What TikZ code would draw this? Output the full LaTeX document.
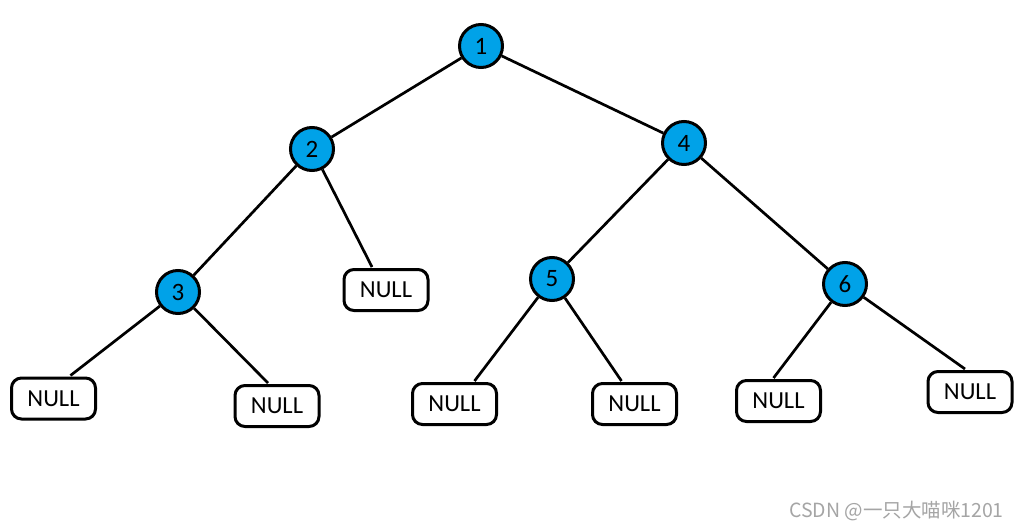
\documentclass[tikz,border=0pt]{standalone}
\usepackage{fontspec}
\setmainfont{Carlito}
\newfontfamily\cjk{Noto Sans CJK SC}
\definecolor{paintblue}{RGB}{0,162,232}
\definecolor{wmgray}{RGB}{165,165,165}
\tikzset{
  treenode/.style={circle, draw=black, line width=3pt, fill=paintblue, minimum size=43pt, inner sep=0pt, font=\fontsize{25}{25}\selectfont},
  nullbox/.style={rectangle, rounded corners=10pt, draw=black, line width=3pt, fill=white, minimum width=84pt, minimum height=41pt, inner sep=0pt, font=\fontsize{24.5}{24.5}\selectfont},
  edge/.style={draw=black, line width=2.7pt}
}
\begin{document}
\begin{tikzpicture}[x=1pt,y=-1pt]
\useasboundingbox (0,0) rectangle (1020,530);
\fill[white] (0,0) rectangle (1020,530);
\node[treenode] (n1) at (481,46) {1};
\node[treenode] (n2) at (312,149) {2};
\node[treenode] (n4) at (684,143) {4};
\node[treenode] (n3) at (178,292) {3};
\node[treenode] (n5) at (552,279) {5};
\node[treenode] (n6) at (845,284) {6};
\node[nullbox] (b2) at (386,290) {NULL};
\node[nullbox] (b3a) at (53.5,398.5) {NULL};
\node[nullbox] (b3b) at (277,406) {NULL};
\node[nullbox] (b5a) at (454.5,404) {NULL};
\node[nullbox] (b5b) at (634.5,404) {NULL};
\node[nullbox] (b6a) at (778.5,401) {NULL};
\node[nullbox] (b6b) at (970,392) {NULL};
\draw[edge] (n1) -- (n2);
\draw[edge] (n1) -- (n4);
\draw[edge] (n2) -- (n3);
\draw[edge] (n2) -- ([xshift=-14pt,yshift=1pt]b2.north);
\draw[edge] (n3) -- ([xshift=17pt,yshift=1pt]b3a.north);
\draw[edge] (n3) -- ([xshift=-9pt,yshift=1pt]b3b.north);
\draw[edge] (n4) -- (n5);
\draw[edge] (n4) -- (n6);
\draw[edge] (n5) -- ([xshift=20pt,yshift=1pt]b5a.north);
\draw[edge] (n5) -- ([xshift=-13pt,yshift=1pt]b5b.north);
\draw[edge] (n6) -- ([xshift=-5pt,yshift=1pt]b6a.north);
\draw[edge] (n6) -- ([xshift=-5pt,yshift=1pt]b6b.north);
\node[text=wmgray, font=\cjk\fontsize{19.5}{19.5}\selectfont, anchor=east, inner sep=0pt] (wm) at (1004,511) {CSDN @一只大喵咪1201};
\end{tikzpicture}
\end{document}
